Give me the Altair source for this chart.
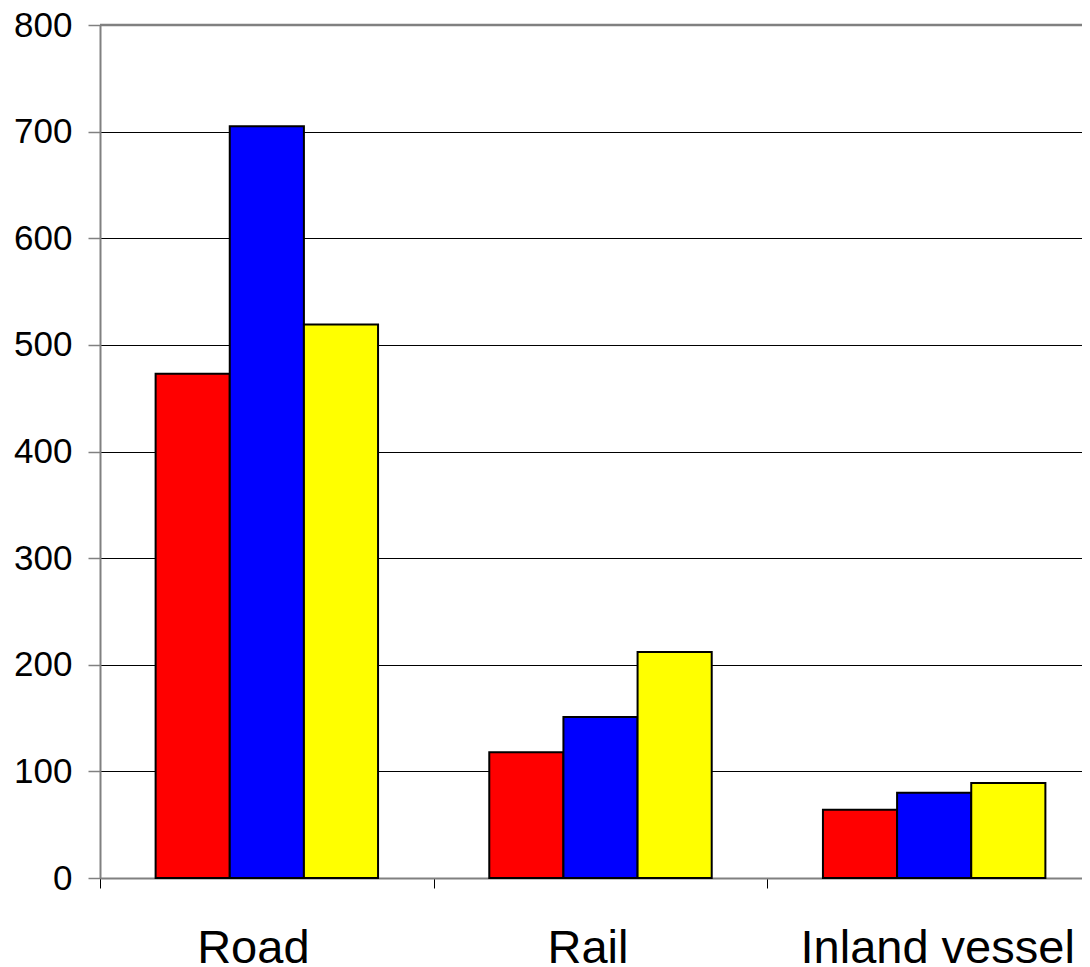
import altair as alt
import pandas as pd

categories = ["Road", "Rail", "Inland vessel"]
series = ["Series 1", "Series 2", "Series 3"]
colors = ["#FF0000", "#0000FF", "#FFFF00"]
values = {
    "Series 1": [473, 118, 64],
    "Series 2": [705, 151, 80],
    "Series 3": [519, 212, 89],
}

rows = []
for s in series:
    for c, v in zip(categories, values[s]):
        rows.append({"category": c, "series": s, "value": v})
df = pd.DataFrame(rows)

FONT = "Liberation Sans"
BAND = 1001 / 3
half = BAND / 2

bars = alt.Chart(df).mark_bar(stroke="black", strokeWidth=2).encode(
    x=alt.X(
        "category:N",
        sort=categories,
        scale=alt.Scale(range=[0, 1001], paddingInner=0, paddingOuter=0),
        axis=alt.Axis(
            title=None,
            labelAngle=0,
            labelFont=FONT,
            labelFontSize=47,
            labelColor="black",
            labelBaseline="alphabetic",
            labelPadding=74,
            labelLimit=0,
            labelOffset=alt.ExprRef(
                f"datum.value == 'Road' ? {half - 14} : datum.value == 'Rail' ? {half - 13} : {half + 3}"
            ),
            tickOffset=-half,
            tickSize=10,
            tickColor="black",
            tickWidth=1,
            domainColor="#808080",
            domainWidth=2,
            grid=False,
        ),
    ),
    xOffset=alt.XOffset(
        "series:N", sort=series,
        scale=alt.Scale(paddingInner=0, paddingOuter=0.75),
    ),
    y=alt.Y(
        "value:Q",
        scale=alt.Scale(domain=[0, 800], nice=False),
        axis=alt.Axis(
            title=None,
            values=list(range(0, 801, 100)),
            labelFont=FONT,
            labelFontSize=35,
            labelColor="black",
            labelPadding=16,
            tickSize=12,
            tickColor="#808080",
            tickWidth=1.5,
            domainColor="#808080",
            domainWidth=2,
            grid=True,
            gridColor="black",
            gridWidth=1,
        ),
    ),
    color=alt.Color("series:N", sort=series, scale=alt.Scale(domain=series, range=colors), legend=None),
)

top_line = alt.Chart(pd.DataFrame({"v": [800]})).mark_rule(color="#808080", strokeWidth=2.5).encode(
    y=alt.Y("v:Q")
)

chart = alt.layer(bars, top_line).properties(
    width=982,
    height=853,
    autosize=alt.AutoSizeParams(type="none"),
    padding={"left": 92, "top": 17, "right": 0, "bottom": 86},
).configure_view(stroke=None).configure(background="white")

chart.save("out.html", embed_options={"renderer": "svg", "actions": False})
